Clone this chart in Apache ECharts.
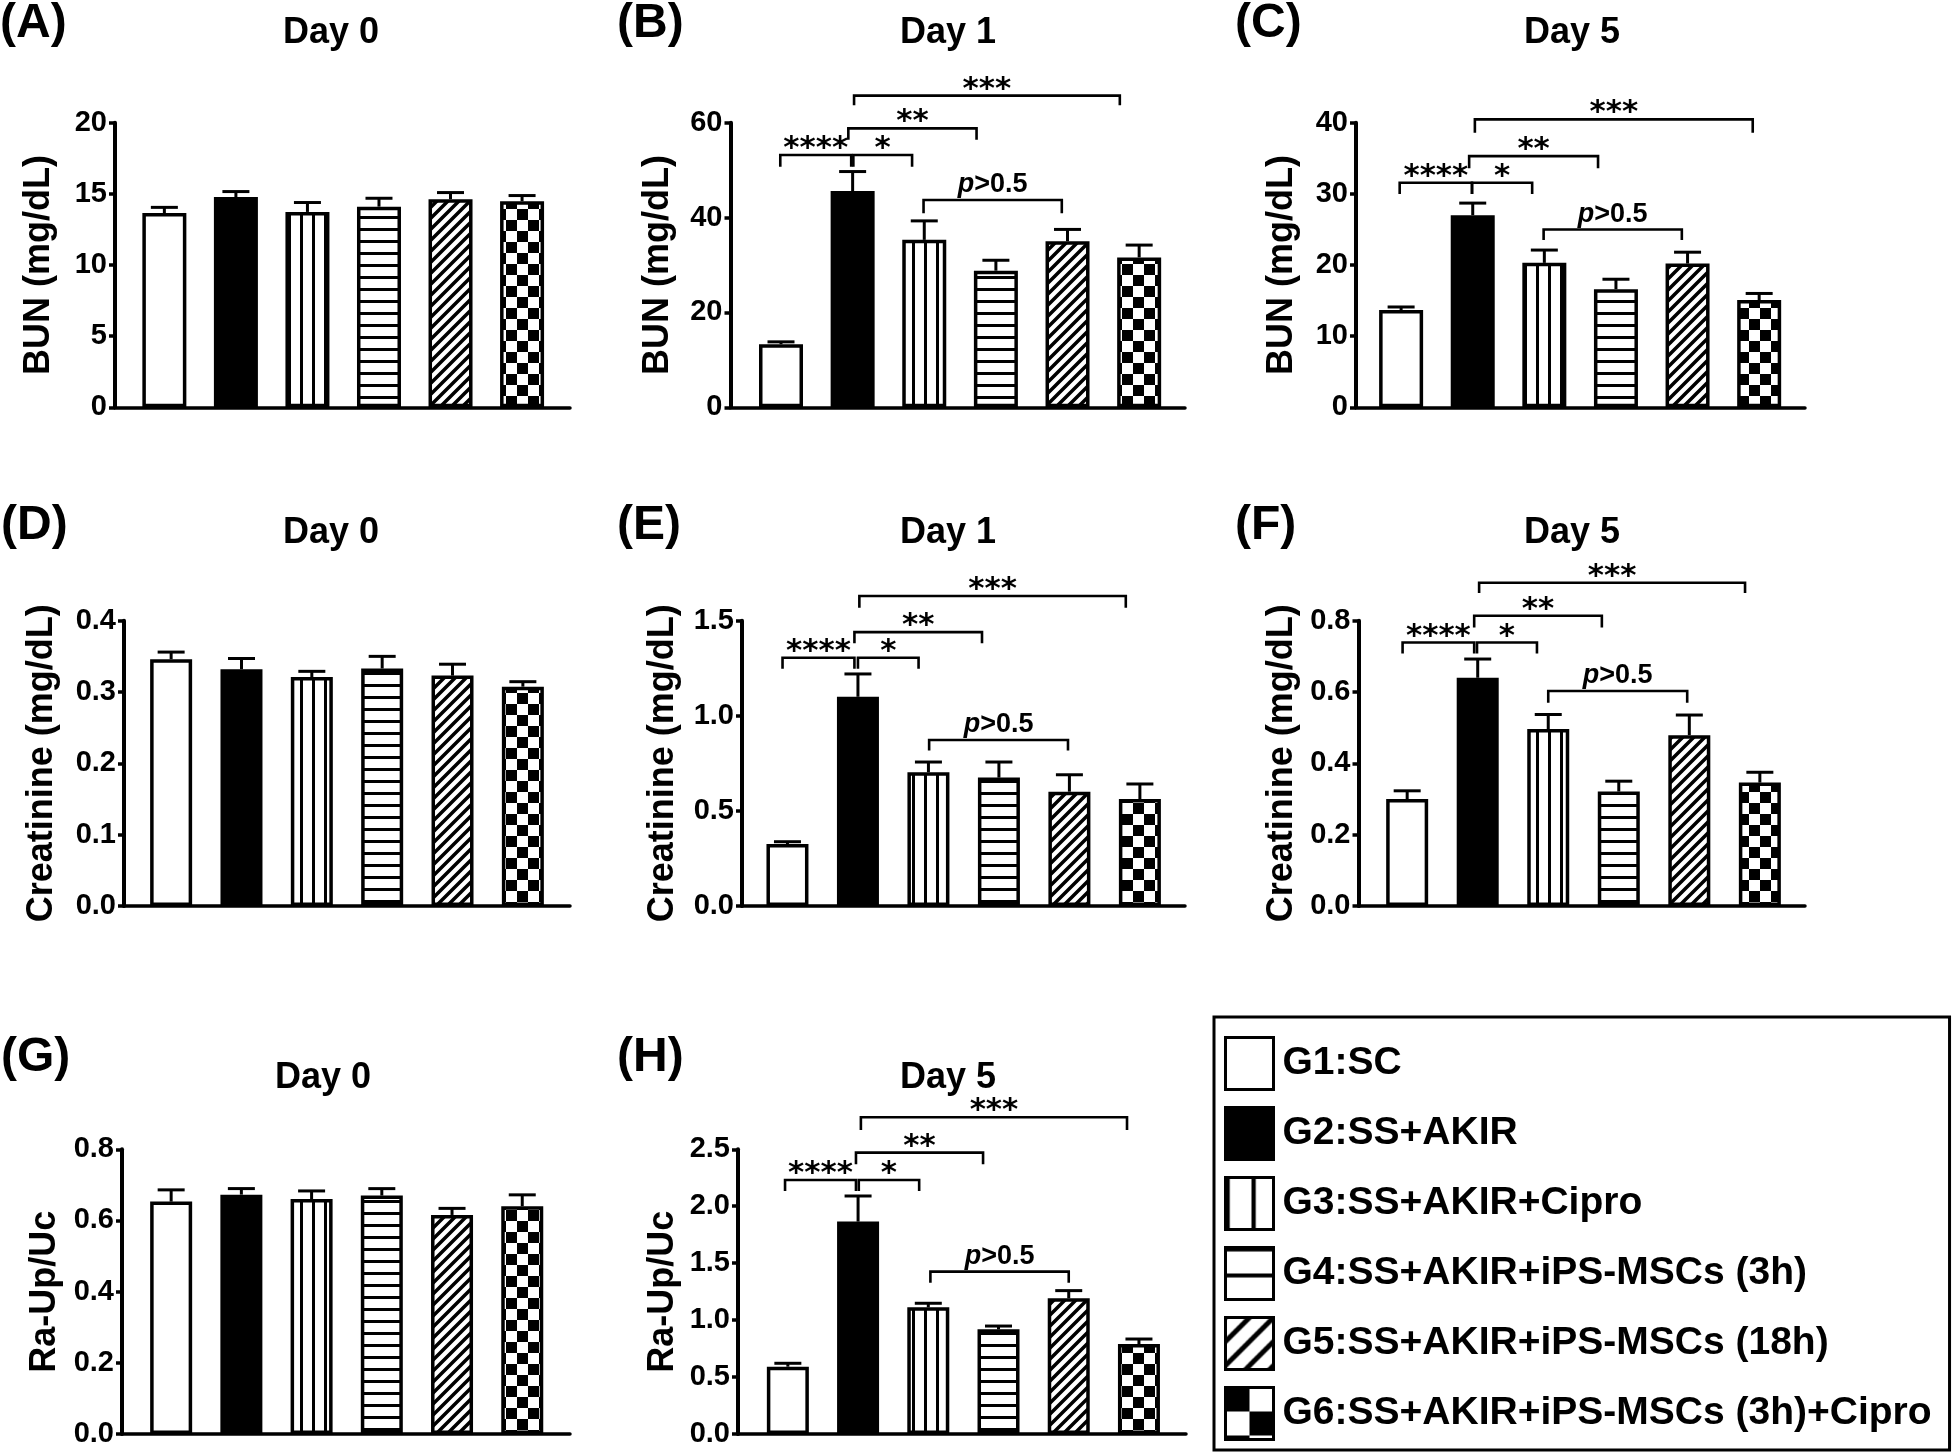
<!DOCTYPE html>
<html><head><meta charset="utf-8">
<script src="https://cdn.jsdelivr.net/npm/echarts@6/dist/echarts.min.js"></script>
<style>html,body{margin:0;padding:0;background:#fff}#chart{width:1959px;height:1456px}</style>
</head><body><div id="chart"></div>
<script>
// ---------------- DATA ----------------
const groups = ['G1:SC', 'G2:SS+AKIR', 'G3:SS+AKIR+Cipro', 'G4:SS+AKIR+iPS-MSCs (3h)', 'G5:SS+AKIR+iPS-MSCs (18h)', 'G6:SS+AKIR+iPS-MSCs (3h)+Cipro'];
const panelLetters = ['(A)', '(B)', '(C)', '(D)', '(E)', '(F)', '(G)', '(H)'];
const panelTitles = ['Day 0', 'Day 1', 'Day 5', 'Day 0', 'Day 1', 'Day 5', 'Day 0', 'Day 5'];
const yAxisNames = ['BUN (mg/dL)', 'BUN (mg/dL)', 'BUN (mg/dL)', 'Creatinine (mg/dL)', 'Creatinine (mg/dL)', 'Creatinine (mg/dL)', 'Ra-Up/Uc', 'Ra-Up/Uc'];
const yMax = [20, 60, 40, 0.4, 1.5, 0.8, 0.8, 2.5];
const yInterval = [5, 20, 10, 0.1, 0.5, 0.2, 0.2, 0.5];
const yDecimals = [0, 0, 0, 1, 1, 1, 1, 1];

const meanA = [13.65, 14.77, 13.73, 14.10, 14.62, 14.48];
const semA  = [0.40, 0.39, 0.66, 0.59, 0.47, 0.40];
const meanB = [13.3, 45.6, 35.3, 28.8, 35.0, 31.6];
const semB  = [0.5, 4.1, 4.0, 2.2, 2.5, 2.6];
const meanC = [13.67, 27.0, 20.3, 16.6, 20.2, 15.07];
const semC  = [0.43, 1.7, 1.8, 1.4, 1.6, 0.93];
const meanD = [0.346, 0.332, 0.321, 0.333, 0.323, 0.3075];
const semD  = [0.010, 0.015, 0.008, 0.017, 0.016, 0.007];
const meanE = [0.326, 1.100, 0.703, 0.675, 0.601, 0.5625];
const semE  = [0.012, 0.120, 0.054, 0.082, 0.089, 0.079];
const meanF = [0.300, 0.640, 0.496, 0.321, 0.479, 0.346];
const semF  = [0.023, 0.0525, 0.041, 0.029, 0.0565, 0.029];
const meanG = [0.653, 0.6726, 0.660, 0.670, 0.6155, 0.640];
const semG  = [0.033, 0.017, 0.023, 0.0195, 0.0185, 0.032];
const meanH = [0.591, 1.865, 1.112, 0.919, 1.191, 0.790];
const semH  = [0.030, 0.225, 0.036, 0.029, 0.068, 0.044];

// significance brackets: [fromGroup, toGroup, bracketY, tickEndY] (group index units) + label
const bracketLabels = ['****', '*', '**', '***', 'p>0.5'];
const bracketsB = [[-0.01, 0.98, 53.2, 50.7], [1.01, 1.83, 53.2, 50.7], [0.94, 2.73, 58.8, 56.4], [1.02, 4.73, 65.7, 63.7], [1.99, 3.92, 43.7, 40.9]];
const bracketsC = [[-0.02, 0.99, 31.57, 29.98], [0.99, 1.83, 31.57, 29.98], [0.95, 2.75, 35.3, 33.6], [1.03, 4.91, 40.47, 38.6], [1.99, 3.92, 25.0, 23.5]];
const bracketsE = [[-0.07, 0.95, 1.305, 1.248], [1.0, 1.86, 1.305, 1.248], [0.95, 2.76, 1.44, 1.381], [1.02, 4.80, 1.63, 1.568], [2.01, 3.98, 0.873, 0.817]];
const bracketsF = [[-0.065, 0.95, 0.739, 0.708], [0.99, 1.84, 0.739, 0.708], [0.95, 2.76, 0.814, 0.781], [1.02, 4.79, 0.9065, 0.878], [2.0, 3.97, 0.603, 0.570]];
const bracketsH = [[-0.04, 0.97, 2.231, 2.134], [1.01, 1.87, 2.231, 2.134], [0.97, 2.78, 2.471, 2.368], [1.04, 4.83, 2.781, 2.670], [2.03, 4.0, 1.4256, 1.329]];

const means = [meanA, meanB, meanC, meanD, meanE, meanF, meanG, meanH];
const sems = [semA, semB, semC, semD, semE, semF, semG, semH];
const brackets = [null, bracketsB, bracketsC, null, bracketsE, bracketsF, null, bracketsH];

// ---------------- LAYOUT ----------------
const FONT = '"Liberation Sans", Arial, sans-serif';
const gridLeft = [115, 730.5, 1356, 124, 742, 1358.5, 122, 738];
const gridRight = [570, 1185, 1805, 570, 1185, 1805, 570, 1186];
const gridTop = [122.7, 122.7, 122.7, 620.7, 620.7, 620.7, 1149.3, 1149.3];
const gridBottom = [407.3, 407.3, 407.3, 906, 906, 906, 1434, 1434];
const xMin = [-0.69, -0.705, -0.63, -0.67, -0.645, -0.69, -0.70, -0.71];
const xMax = [5.67, 5.64, 5.64, 5.67, 5.64, 5.64, 5.68, 5.67];
const nameGaps = [58, 54, 56, 64, 61, 58, 59, 57];
const barW = [44, 44, 44, 42, 42, 42, 42, 42];
const letterPos = [[0, 28], [617, 28], [1235, 28], [1, 530], [617, 530], [1235, 530], [1, 1062], [617, 1062]];
const titlePos = [[331, 33], [948, 33], [1572, 33], [331, 533], [948, 533], [1572, 533], [323, 1078], [948, 1078]];

function pattern(w, h, draw) {
  const c = document.createElement('canvas');
  c.width = w; c.height = h;
  const ctx = c.getContext('2d');
  ctx.fillStyle = '#fff'; ctx.fillRect(0, 0, w, h);
  ctx.fillStyle = '#000'; ctx.strokeStyle = '#000';
  draw(ctx, w, h);
  return { image: c, repeat: 'repeat' };
}
function diag(p, lw) {
  return pattern(p, p, (ctx) => {
    ctx.lineWidth = lw; ctx.lineCap = 'square';
    ctx.beginPath();
    for (let k = 0; k <= 2; k++) { ctx.moveTo(k * p + 2, -2); ctx.lineTo(k * p - p - 2, p + 2); }
    ctx.stroke();
  });
}
function fills(s) {
  return [
    '#ffffff',
    '#000000',
    pattern(12 * s, 12, (ctx) => ctx.fillRect(0, 0, 3 * (s > 1 ? 1.4 : 1), 12)),
    pattern(12, 12 * s, (ctx) => ctx.fillRect(0, 0, 12, 3 * (s > 1 ? 1.3 : 1))),
    diag(Math.round(11 * s), 3.5 * (s > 1 ? 1.4 : 1)),
    pattern(Math.round(22 * s), Math.round(22 * s), (ctx, w) => { ctx.fillRect(0, 0, w / 2, w / 2); ctx.fillRect(w / 2, w / 2, w / 2, w / 2); })
  ];
}
const barFills = fills(1);
const legendFills = fills(2.2);

const option = {
  animation: false,
  backgroundColor: '#fff',
  textStyle: { fontFamily: FONT },
  grid: [], xAxis: [], yAxis: [], series: [], graphic: [],
  legend: {
    orient: 'vertical', left: 1214, top: 1017,
    data: groups.map((n, i) => ({ name: n, itemStyle: { color: legendFills[i], borderColor: '#000', borderWidth: 3 } })),
    icon: 'rect', itemWidth: 48, itemHeight: 52, itemGap: 15,
    padding: [19, 18, 9, 10], borderColor: '#000', borderWidth: 3,
    selectedMode: false,
    textStyle: { fontSize: 39, lineHeight: 46, fontWeight: 'bold', color: '#000', fontFamily: FONT, padding: [0, 0, 0, 4] }
  }
};

for (let p = 0; p < 8; p++) {
  option.grid.push({ left: gridLeft[p], top: gridTop[p], width: gridRight[p] - gridLeft[p], height: gridBottom[p] - gridTop[p], containLabel: false, outerBoundsMode: 'none' });
  option.xAxis.push({
    gridIndex: p, type: 'value', min: xMin[p], max: xMax[p],
    axisLine: { show: true, onZero: false, lineStyle: { color: '#000', width: 3.5 } },
    axisTick: { show: false }, axisLabel: { show: false }, splitLine: { show: false }
  });
  const dec = yDecimals[p];
  option.yAxis.push({
    gridIndex: p, type: 'value', min: 0, max: yMax[p], interval: yInterval[p],
    name: yAxisNames[p], nameLocation: 'middle', nameGap: nameGaps[p], nameRotate: 90,
    nameTextStyle: { fontSize: 36, fontWeight: 'bold', color: '#000', fontFamily: FONT },
    axisLine: { show: true, onZero: false, lineStyle: { color: '#000', width: 4 } },
    axisTick: { show: true, length: 6, lineStyle: { color: '#000', width: 3.5 } },
    axisLabel: { fontSize: 29, fontWeight: 'bold', color: '#000', fontFamily: FONT, margin: 8, formatter: (v) => v.toFixed(dec) },
    splitLine: { show: false }
  });
  for (let g = 0; g < 6; g++) {
    option.series.push({
      type: 'bar', name: groups[g], xAxisIndex: p, yAxisIndex: p,
      data: [[g, means[p][g]]], barWidth: barW[p], barGap: '-100%',
      itemStyle: { color: barFills[g], borderColor: '#000', borderWidth: 3.5 },
      emphasis: { disabled: true }, z: 2
    });
  }
  option.series.push({
    type: 'custom', name: 'SEM', xAxisIndex: p, yAxisIndex: p, z: 3, clip: false,
    data: means[p].map((m, g) => [g, m, sems[p][g]]),
    encode: { x: 0, y: 1 },
    renderItem: (params, api) => {
      const x = api.value(0), m = api.value(1), e = api.value(2);
      const a = api.coord([x, m]), b = api.coord([x, m + e]);
      return { type: 'group', children: [
        { type: 'line', shape: { x1: a[0], y1: a[1], x2: b[0], y2: b[1] }, style: { stroke: '#000', lineWidth: 3 } },
        { type: 'line', shape: { x1: b[0] - 13.5, y1: b[1], x2: b[0] + 13.5, y2: b[1] }, style: { stroke: '#000', lineWidth: 3 } }
      ] };
    }
  });
  if (brackets[p]) {
    const br = brackets[p];
    option.series.push({
      type: 'custom', name: 'significance', xAxisIndex: p, yAxisIndex: p, z: 4, clip: false,
      data: br, encode: { x: [0, 1], y: [2, 3] },
      renderItem: (params, api) => {
        const x1 = api.value(0), x2 = api.value(1), y = api.value(2), yt = api.value(3);
        const p1 = api.coord([x1, yt]), p2 = api.coord([x1, y]), p3 = api.coord([x2, y]), p4 = api.coord([x2, yt]);
        const lab = bracketLabels[params.dataIndex];
        const cx = (p2[0] + p3[0]) / 2;
        const isP = lab.charAt(0) === 'p';
        const txt = isP
          ? { type: 'text', x: cx, y: p2[1] - 15, style: { text: '{i|p}{n|>0.5}', align: 'center', verticalAlign: 'middle', rich: {
                i: { fontStyle: 'italic', fontWeight: 'bold', fontSize: 27, fontFamily: FONT, fill: '#000' },
                n: { fontWeight: 'bold', fontSize: 27, fontFamily: FONT, fill: '#000' } } } }
          : { type: 'text', x: cx, y: p2[1] - 6, style: { text: lab, align: 'center', verticalAlign: 'middle', fontSize: 31, fontWeight: 'bold', fontFamily: '"DejaVu Sans", sans-serif', fill: '#000' } };
        return { type: 'group', children: [
          { type: 'polyline', shape: { points: [p1, p2, p3, p4] }, style: { stroke: '#000', lineWidth: 2.6, fill: null } },
          txt
        ] };
      }
    });
  }
  option.graphic.push({ type: 'text', left: letterPos[p][0], top: letterPos[p][1] - 28, style: { text: panelLetters[p], fontSize: 48, fontWeight: 'bold', fontFamily: FONT, fill: '#000' } });
  option.graphic.push({ type: 'text', x: titlePos[p][0], y: titlePos[p][1], style: { text: panelTitles[p], fontSize: 36, fontWeight: 'bold', fontFamily: FONT, fill: '#000', align: 'center', verticalAlign: 'middle', textAlign: 'center', textVerticalAlign: 'middle' } });
}

const chart = echarts.init(document.getElementById('chart'), null, { renderer: 'canvas' });
chart.setOption(option);
</script></body></html>
